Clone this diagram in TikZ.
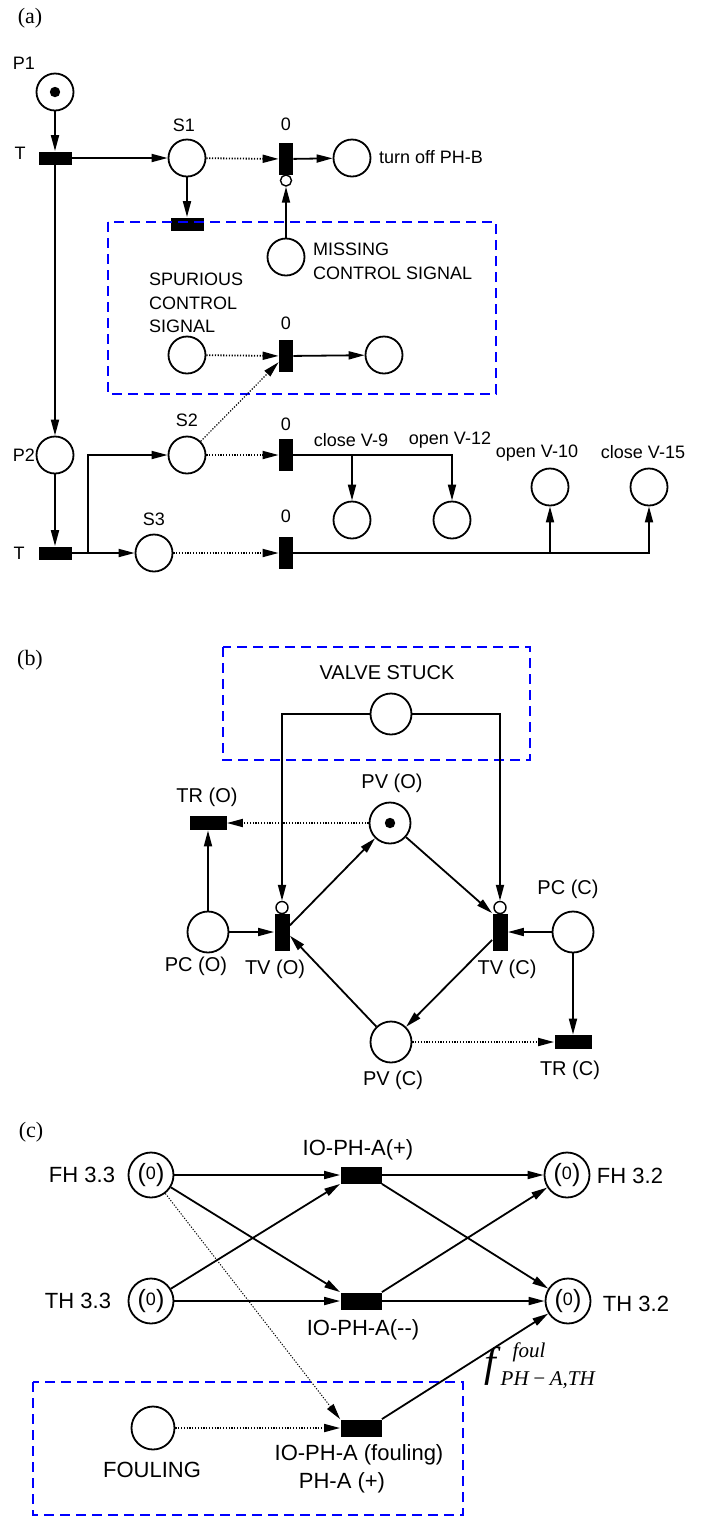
\documentclass[tikz,border=0pt]{standalone}
\usepackage{fontspec}
\setmainfont{Liberation Sans}
\newfontfamily\panelfont{Liberation Serif}
\usetikzlibrary{arrows.meta,positioning,calc}
\newcommand{\countmark}{{\fontsize{12.5}{12.5}\selectfont(}\raisebox{1.2pt}{\fontsize{9}{9}\selectfont 0}{\fontsize{12.5}{12.5}\selectfont)}}
\tikzset{
    every node/.style={font=\fontsize{9}{11.8}\selectfont},
    place/.style={circle,draw,line width=0.9pt,minimum size=18.5pt,inner sep=0pt},
    bigplace/.style={place,minimum size=20.5pt},
    marked/.style={path picture={\fill (path picture bounding box.center) circle (2.6pt);}},
    countplace/.style={place,minimum size=22.5pt},
    hbar/.style={rectangle,fill=black,minimum width=16.5pt,minimum height=6.5pt,inner sep=0pt},
    vbar/.style={rectangle,fill=black,minimum width=7pt,minimum height=16pt,inner sep=0pt},
    inhib/.style={circle,draw,line width=0.7pt,fill=white,minimum size=5.5pt,inner sep=0pt},
    flow/.style={line width=0.9pt,-{Triangle[length=8pt,width=4pt]}},
    readarc/.style={flow,dash pattern=on 0.6pt off 0.8pt},
    faultbox/.style={draw=blue,line width=0.9pt,dash pattern=on 5pt off 3pt},
    panel/.style={font=\panelfont\fontsize{11}{13}\selectfont}
}
\begin{document}
\begin{tikzpicture}[x=0.5pt,y=-0.5pt]
    \useasboundingbox (0,0) rectangle (704,1517);

    % (a)
    \node[panel] (lbla) at (30,18) {(a)};
    \node[place,marked] (p1) at (55,92) {};
    \node (p1lbl) at (24,63) {P1};
    \node[hbar] (t1) at (55,158) {};
    \node (t1lbl) at (20,153) {T};
    \node[place] (s1) at (187,158) {};
    \node (s1lbl) at (184,125) {S1};
    \node[vbar] (ta) at (286,159) {};
    \node (talbl) at (286,124) {0};
    \node[inhib] (ia) at (286,180.5) {};
    \node[place] (offb) at (352,158) {};
    \node[anchor=west] (offblbl) at (372,157) {turn off PH-B};
    \node[hbar] (ts1) at (187,224) {};
    \draw[faultbox] (108,222) rectangle (496,394);
    \node[place] (miss) at (286,257) {};
    \node[anchor=west,align=left] (misslbl) at (306,261) {MISSING\\CONTROL SIGNAL};
    \node[anchor=west,align=left] (spulbl) at (142,303) {SPURIOUS\\CONTROL\\SIGNAL};
    \node[place] (spu) at (187,355) {};
    \node[vbar] (tb) at (286,356) {};
    \node (tblbl) at (286,323) {0};
    \node[place] (outb) at (384,355) {};
    \node[place] (p2) at (55,455) {};
    \node[anchor=east] (p2lbl) at (42,455) {P2};
    \node[place] (s2) at (187,455) {};
    \node (s2lbl) at (187,420) {S2};
    \node[vbar] (tc) at (286,455) {};
    \node (tclbl) at (286,424) {0};
    \node (cv9lbl) at (351,440) {close V-9};
    \node (ov12lbl) at (450,440) {open V-12};
    \node[place] (cv9) at (352,520) {};
    \node[place] (ov12) at (452,520) {};
    \node[hbar] (t2) at (55,553) {};
    \node (t2lbl) at (19,553) {T};
    \coordinate (split) at (88,553);
    \node[place] (s3) at (154,553) {};
    \node (s3lbl) at (154,519) {S3};
    \node[vbar] (td) at (286,553) {};
    \node (tdlbl) at (286,516) {0};
    \node (ov10lbl) at (537,453) {open V-10};
    \node (cv15lbl) at (643,452) {close V-15};
    \node[place] (ov10) at (550,487) {};
    \node[place] (cv15) at (649,487) {};

    \draw[flow] (p1) -- (t1);
    \draw[flow] (t1) -- (s1);
    \draw[flow] (t1) -- (p2);
    \draw[readarc] (s1) -- (ta);
    \draw[flow] (ta) -- (offb);
    \draw[flow] (s1) -- (ts1);
    \draw[flow] (miss) -- (ia);
    \draw[readarc] (spu) -- (tb);
    \draw[flow] (tb) -- (outb);
    \draw[readarc,line width=0.6pt] (s2.45) -- (tb.-140);
    \draw[readarc] (s2) -- (tc);
    \draw[flow] (tc) -| (ov12);
    \draw[flow] (tc.east -| cv9) -- (cv9);
    \draw[flow] (p2) -- (t2);
    \draw[flow] (t2) -- (s3);
    \draw[flow] (split) |- (s2);
    \draw[readarc] (s3) -- (td);
    \draw[flow] (td) -| (cv15);
    \draw[flow] (td.east -| ov10) -- (ov10);

    % (b)
    \begin{scope}[every node/.append style={font=\fontsize{10}{12}\selectfont}]
    \node[panel] (lblb) at (30,660) {(b)};
    \draw[faultbox] (223,647) rectangle (530,760);
    \node (vslbl) at (387,673) {VALVE STUCK};
    \node[bigplace] (vs) at (391,714) {};
    \node[bigplace,marked] (pvo) at (390,823) {};
    \node (pvolbl) at (392,783) {PV (O)};
    \node[hbar,minimum width=18.5pt,minimum height=7pt] (tro) at (208,823) {};
    \node (trolbl) at (207,797) {TR (O)};
    \node[bigplace] (pco) at (208,932) {};
    \node (pcolbl) at (196,966) {PC (O)};
    \node[vbar,minimum width=7.5pt,minimum height=18.5pt] (tvo) at (282,932) {};
    \node (tvolbl) at (275,969) {TV (O)};
    \node[inhib,minimum size=6pt] (io) at (282,907.5) {};
    \node[vbar,minimum width=7.5pt,minimum height=18.5pt] (tvc) at (500,932) {};
    \node (tvclbl) at (507,969) {TV (C)};
    \node[inhib,minimum size=6pt] (ic) at (500,907.5) {};
    \node[bigplace] (pcc) at (573,932) {};
    \node (pcclbl) at (568,889) {PC (C)};
    \node[bigplace] (pvc) at (391,1042) {};
    \node (pvclbl) at (393,1080) {PV (C)};
    \node[hbar,minimum width=18.5pt,minimum height=7pt] (trc) at (573,1042) {};
    \node (trclbl) at (570,1070) {TR (C)};
    \end{scope}

    \draw[flow] (vs) -| (io);
    \draw[flow] (vs) -| (ic);
    \draw[readarc] (pvo) -- (tro);
    \draw[flow] (pco) -- (tro);
    \draw[flow] (pco) -- (tvo);
    \draw[flow] (tvo.40) -- (pvo);
    \draw[flow] (pvo) -- (tvc.north west);
    \draw[flow] (tvc.225) -- (pvc);
    \draw[flow] (pvc) -- (tvo.-25);
    \draw[flow] (pcc) -- (tvc);
    \draw[flow] (pcc) -- (trc);
    \draw[readarc] (pvc) -- (trc);

    % (c)
    \begin{scope}[every node/.append style={font=\fontsize{11}{13.5}\selectfont}]
    \node[panel] (lblc) at (31,1132) {(c)};
    \node[countplace] (fh33) at (151,1175) {\countmark};
    \node (fh33lbl) at (82,1175) {FH 3.3};
    \node[countplace] (th33) at (151,1301) {\countmark};
    \node (th33lbl) at (78,1301) {TH 3.3};
    \node[hbar,minimum width=20.5pt,minimum height=8.5pt] (iop) at (361,1175) {};
    \node (ioplbl) at (358,1150) {IO-PH-A(+)};
    \node[hbar,minimum width=20.5pt,minimum height=8.5pt] (iom) at (361,1301) {};
    \node (iomlbl) at (363,1330) {IO-PH-A(-{}-)};
    \node[countplace] (fh32) at (567,1175) {\countmark};
    \node (fh32lbl) at (630,1176) {FH 3.2};
    \node[countplace] (th32) at (568,1301) {\countmark};
    \node (th32lbl) at (636,1304) {TH 3.2};
    \node[hbar,minimum width=20.5pt,minimum height=8.5pt] (iof) at (361,1428) {};
    \node (ioflbl) at (359,1455) {IO-PH-A (fouling)};
    \node (ioflbl2) at (342,1483) {PH-A (+)};
    \node[bigplace,minimum size=21.5pt] (foul) at (153,1428) {};
    \node (foullbl) at (152,1470) {FOULING};
    \draw[faultbox] (33,1382) rectangle (463,1515);
    \node[anchor=west,font=\panelfont\itshape] (flbl) at (477,1366) {\fontsize{21}{21}\selectfont f\kern2.5pt\raisebox{-4.5pt}{\fontsize{10.5}{14}\selectfont\begin{tabular}[b]{@{}l@{}}\kern6pt foul\\PH\,\char"2212\,A,TH\end{tabular}}};
    \end{scope}

    \draw[flow] (fh33) -- (iop);
    \draw[flow] (fh33) -- (iom.north west);
    \draw[flow] (th33) -- (iop.south west);
    \draw[flow] (th33) -- (iom);
    \draw[flow] (iop) -- (fh32);
    \draw[flow] (iop.south east) -- (th32);
    \draw[flow] (iom.north east) -- (fh32);
    \draw[flow] (iom) -- (th32);
    \draw[flow] (iof.north east) -- (th32);
    \draw[readarc] (foul) -- (iof);
    \draw[readarc,line width=0.5pt] (fh33) -- (iof.north west);
\end{tikzpicture}
\end{document}
